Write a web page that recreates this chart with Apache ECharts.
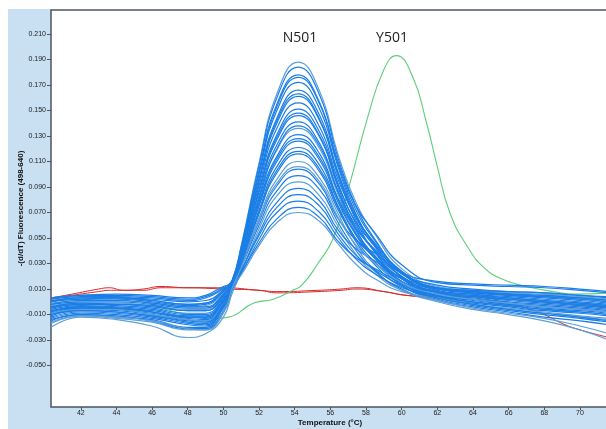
<!DOCTYPE html>
<html>
<head>
<meta charset="utf-8">
<script src="https://cdn.jsdelivr.net/npm/echarts@6.0.0/dist/echarts.min.js"></script>
<style>
html, body { margin: 0; padding: 0; background: #fff; }
#main { width: 606px; height: 429px; }
</style>
</head>
<body>
<div id="main"></div>
<script>
// melt curves
var n501Temps = [40.33, 42, 44, 46, 48, 49, 50, 50.5, 51, 52, 53, 54.2, 55.4, 56.4, 57.4, 58.5, 60, 62, 64, 66, 68, 70, 71.63];

var n501Curves = [
    [-0.003,-0.001,-0.001,-0.003,-0.006,-0.006,0.005, 0.017,0.044,0.109,0.163,0.188,0.165,0.117,0.079,0.053,0.026, 0.012,0.009,0.007,0.006,0.004,0.002],
    [0.000,0.002,0.002,0.000,-0.003,-0.002,0.008, 0.017,0.043,0.107,0.160,0.184,0.162,0.114,0.076,0.049,0.023, 0.009,0.006,0.004,0.002,0.000,-0.002],
    [-0.009,-0.005,-0.006,-0.009,-0.013,-0.014,-0.001, 0.015,0.041,0.103,0.155,0.178,0.156,0.111,0.076,0.054,0.029, 0.015,0.013,0.012,0.011,0.009,0.007],
    [-0.006,-0.003,-0.004,-0.006,-0.010,-0.010,0.002, 0.015,0.040,0.100,0.150,0.172,0.151,0.107,0.070,0.044,0.019, 0.006,0.003,0.000,-0.002,-0.004,-0.006],
    [0.003,0.005,0.005,0.004,0.002,0.004,0.011, 0.017,0.040,0.097,0.144,0.166,0.146,0.103,0.069,0.045,0.022, 0.010,0.007,0.005,0.003,0.001,-0.001],
    [-0.012,-0.008,-0.009,-0.012,-0.017,-0.018,-0.004, 0.012,0.037,0.094,0.140,0.161,0.142,0.100,0.065,0.039,0.016, 0.004,0.000,-0.003,-0.006,-0.008,-0.010],
    [-0.004,-0.002,-0.002,-0.004,-0.007,-0.007,0.004, 0.016,0.038,0.091,0.136,0.156,0.137,0.097,0.067,0.046,0.024, 0.011,0.009,0.008,0.007,0.005,0.004],
    [-0.010,-0.006,-0.007,-0.010,-0.014,-0.015,-0.002, 0.014,0.036,0.088,0.131,0.151,0.133,0.094,0.062,0.039,0.018, 0.005,0.002,-0.001,-0.003,-0.005,-0.007],
    [0.001,0.003,0.003,0.001,-0.002,-0.001,0.009, 0.016,0.036,0.086,0.127,0.146,0.129,0.091,0.058,0.034,0.013, 0.002,-0.003,-0.007,-0.010,-0.013,-0.016],
    [-0.007,-0.004,-0.005,-0.007,-0.011,-0.011,0.001, 0.014,0.034,0.083,0.123,0.141,0.124,0.088,0.060,0.040,0.020, 0.008,0.005,0.003,0.001,-0.001,-0.003],
    [-0.017,-0.011,-0.013,-0.016,-0.022,-0.022,-0.009, 0.010,0.032,0.080,0.119,0.136,0.120,0.085,0.055,0.034,0.015, 0.003,-0.002,-0.005,-0.008,-0.011,-0.013],
    [-0.011,-0.007,-0.008,-0.011,-0.016,-0.017,-0.003, 0.012,0.031,0.078,0.114,0.131,0.116,0.082,0.058,0.041,0.022, 0.013,0.010,0.008,0.007,0.005,0.003],
    [0.002,0.004,0.004,0.003,0.001,0.003,0.010, 0.015,0.033,0.075,0.110,0.126,0.111,0.079,0.053,0.034,0.016, 0.007,0.004,0.001,-0.001,-0.003,-0.005],
    [-0.002,0.000,0.000,-0.002,-0.005,-0.005,0.006, 0.015,0.032,0.072,0.106,0.121,0.107,0.076,0.050,0.031,0.014, 0.003,-0.001,-0.004,-0.007,-0.009,-0.011],
    [-0.014,-0.010,-0.012,-0.014,-0.020,-0.020,-0.007, 0.011,0.029,0.069,0.101,0.116,0.102,0.073,0.050,0.035,0.018, 0.010,0.007,0.005,0.004,0.002,0.000],
    [-0.001,0.001,0.001,-0.001,-0.004,-0.003,0.007, 0.015,0.030,0.066,0.096,0.110,0.097,0.070,0.044,0.025,0.009, 0.000,-0.006,-0.010,-0.015,-0.022,-0.030],
    [-0.008,-0.004,-0.005,-0.008,-0.012,-0.013,0.000, 0.013,0.028,0.063,0.091,0.104,0.092,0.066,0.049,0.038,0.023, 0.016,0.014,0.013,0.012,0.010,0.008],
    [-0.005,-0.002,-0.003,-0.005,-0.009,-0.009,0.003, 0.013,0.027,0.060,0.087,0.099,0.088,0.063,0.041,0.024,0.010, 0.001,-0.004,-0.008,-0.012,-0.015,-0.018],
    [-0.020,-0.012,-0.014,-0.019,-0.028,-0.025,-0.012, 0.007,0.023,0.057,0.083,0.094,0.083,0.060,0.038,0.022,0.009, 0.001,-0.005,-0.009,-0.013,-0.019,-0.025],
    [-0.013,-0.009,-0.010,-0.013,-0.018,-0.019,-0.005, 0.010,0.024,0.054,0.078,0.089,0.079,0.057,0.042,0.032,0.019, 0.011,0.008,0.006,0.005,0.003,0.001],
    [-0.004,-0.001,-0.002,-0.003,-0.007,-0.007,0.005, 0.014,0.025,0.052,0.074,0.084,0.075,0.054,0.037,0.025,0.013, 0.005,0.002,-0.002,-0.004,-0.006,-0.008],
    [-0.015,-0.010,-0.011,-0.015,-0.021,-0.021,-0.008, 0.010,0.022,0.049,0.070,0.079,0.070,0.051,0.034,0.022,0.011, 0.004,0.000,-0.003,-0.006,-0.008,-0.010],
    [0.003,0.005,0.006,0.005,0.003,0.005,0.012, 0.014,0.023,0.046,0.065,0.074,0.066,0.048,0.035,0.026,0.015, 0.008,0.006,0.003,0.001,-0.001,-0.003],
    [-0.009,-0.006,-0.006,-0.010,-0.014,-0.015,-0.001, 0.012,0.021,0.044,0.062,0.070,0.063,0.046,0.030,0.018,0.008, 0.003,-0.002,-0.006,-0.009,-0.012,-0.014],
    [0.001,0.002,0.003,0.001,-0.002,-0.001,0.008, 0.017,0.042,0.102,0.153,0.176,0.155,0.109,0.073,0.048,0.024, 0.010,0.008,0.006,0.004,0.002,0.000],
    [-0.008,-0.004,-0.005,-0.008,-0.012,-0.012,0.001, 0.015,0.038,0.095,0.142,0.163,0.143,0.102,0.067,0.043,0.020, 0.007,0.004,0.002,0.000,-0.002,-0.004],
    [-0.002,0.001,0.001,-0.001,-0.004,-0.004,0.006, 0.016,0.037,0.087,0.129,0.148,0.130,0.093,0.063,0.044,0.023, 0.011,0.008,0.006,0.005,0.003,0.001],
    [-0.010,-0.007,-0.008,-0.011,-0.015,-0.016,-0.002, 0.012,0.033,0.081,0.120,0.138,0.122,0.087,0.057,0.036,0.016, 0.005,0.001,-0.002,-0.005,-0.007,-0.009],
    [0.000,0.003,0.003,0.002,0.000,0.001,0.009, 0.016,0.033,0.076,0.112,0.128,0.113,0.081,0.054,0.036,0.018, 0.008,0.005,0.002,0.000,-0.002,-0.004],
    [-0.007,-0.005,-0.005,-0.008,-0.012,-0.012,0.000, 0.013,0.030,0.070,0.103,0.118,0.104,0.075,0.048,0.029,0.012, 0.003,-0.002,-0.006,-0.009,-0.012,-0.015],
    [-0.016,-0.011,-0.012,-0.015,-0.021,-0.022,-0.008, 0.011,0.027,0.064,0.093,0.106,0.094,0.067,0.045,0.030,0.015, 0.006,0.002,-0.001,-0.004,-0.006,-0.008]
];

var y501Temps = [40.33, 42, 43.5, 45.3, 46.8, 48.3, 49.5, 50.3, 51.7, 52.8, 53.9, 54.4, 55.3, 56.2, 57.1, 58.1, 59.0, 59.7, 60.6, 61.4, 62.0, 62.7, 63.7, 64.6, 65.6, 66.7, 68.5, 69.8, 71.63];
var y501Values = [-0.005, 0.001, 0.004, 0.001, -0.006, -0.011, -0.013, -0.012, -0.001, 0.002, 0.009, 0.013, 0.030, 0.051, 0.093, 0.145, 0.182, 0.193, 0.177, 0.140, 0.106, 0.070, 0.043, 0.027, 0.018, 0.013, 0.008, 0.006, 0.007];

var ntcTemps = [40.33, 41.5, 43.0, 43.6, 44.4, 45.5, 46.5, 48, 50, 52, 53, 55.3, 56.6, 57.5, 59, 60.3, 62, 64, 66, 67, 68, 69, 70, 71.63];
var ntcA = [0.003, 0.006, 0.010, 0.011, 0.009, 0.010, 0.012, 0.011, 0.011, 0.009, 0.008, 0.009, 0.010, 0.011, 0.008, 0.005, 0.004, 0.004, 0.002, 0.001, 0.000, -0.001, -0.003, -0.004];
var ntcB = [0.002, 0.005, 0.008, 0.009, 0.009, 0.009, 0.011, 0.011, 0.010, 0.009, 0.007, 0.008, 0.009, 0.010, 0.008, 0.005, 0.003, 0.002, -0.001, -0.005, -0.010, -0.017, -0.022, -0.028];

var xTicks = [42, 44, 46, 48, 50, 52, 54, 56, 58, 60, 62, 64, 66, 68, 70];
var yTicks = [-0.05, -0.03, -0.01, 0.01, 0.03, 0.05, 0.07, 0.09, 0.11, 0.13, 0.15, 0.17, 0.19, 0.21];

function pairs(xs, ys) {
    var out = [];
    for (var i = 0; i < xs.length; i++) {
        out.push([xs[i], ys[i]]);
    }
    return out;
}

var lightOnes = [0, 10, 15, 18, 23, 30]; // paler outer curves

var series = [];
series.push({ type: 'line', data: pairs(ntcTemps, ntcA), smooth: true, showSymbol: false, lineStyle: { color: '#d42a2c', width: 1 } });
series.push({ type: 'line', data: pairs(ntcTemps, ntcB), smooth: true, showSymbol: false, lineStyle: { color: '#d42a2c', width: 1 } });
series.push({ type: 'line', data: pairs(y501Temps, y501Values), smooth: true, showSymbol: false, lineStyle: { color: '#5ccf7e', width: 1.1 } });
for (var k = 0; k < n501Curves.length; k++) {
    series.push({
        type: 'line',
        data: pairs(n501Temps, n501Curves[k]),
        smooth: true,
        showSymbol: false,
        lineStyle: { color: lightOnes.indexOf(k) >= 0 ? '#5c9fd9' : '#1b7ee6', width: 1.2 }
    });
}

var myChart = echarts.init(document.getElementById('main'));
var option = {
    animation: false,
    backgroundColor: '#fff',
    grid: {
        left: 51, top: 10, right: -3, bottom: 22,
        outerBoundsMode: 'none',
        show: true,
        backgroundColor: '#fff',
        borderColor: '#4c5561',
        borderWidth: 1.5
    },
    xAxis: {
        type: 'value',
        min: 40.33,
        max: 71.63,
        name: 'Temperature (°C)',
        nameLocation: 'middle',
        nameGap: 12,
        nameMoveOverlap: false,
        nameTextStyle: { fontFamily: 'Liberation Sans', fontSize: 8, fontWeight: 'bold', color: '#111' },
        axisLine: { show: false, onZero: false },
        axisTick: { show: true, length: 3, customValues: xTicks, lineStyle: { color: '#555' } },
        axisLabel: { customValues: xTicks, margin: 3, fontFamily: 'Liberation Sans', fontSize: 7, color: '#222' },
        splitLine: { show: false }
    },
    yAxis: {
        type: 'value',
        min: -0.0825,
        max: 0.2288,
        name: '-(d/dT) Fluorescence (498-640)',
        nameLocation: 'middle',
        nameGap: 26,
        nameMoveOverlap: false,
        nameTextStyle: { fontFamily: 'Liberation Sans', fontSize: 8, fontWeight: 'bold', color: '#111' },
        axisLine: { show: false, onZero: false },
        axisTick: { show: true, length: 4, customValues: yTicks, lineStyle: { color: '#555' } },
        axisLabel: {
            customValues: yTicks,
            margin: 5,
            fontFamily: 'Liberation Sans',
            fontSize: 7,
            color: '#222',
            formatter: function (v) { return v.toFixed(3); }
        },
        splitLine: { show: false }
    },
    graphic: [
        { type: 'rect', z: -10, shape: { x: 8, y: 9, width: 43, height: 420 }, style: { fill: '#c9dff2' } },
        { type: 'rect', z: -10, shape: { x: 51, y: 407, width: 555, height: 22 }, style: { fill: '#c9dff2' } },
        { type: 'text', z: 100, x: 300, y: 38, style: { text: 'N501', fontFamily: 'Open Sans', fontSize: 14, fill: '#222', align: 'center', verticalAlign: 'middle' } },
        { type: 'text', z: 100, x: 392, y: 38, style: { text: 'Y501', fontFamily: 'Open Sans', fontSize: 14, fill: '#222', align: 'center', verticalAlign: 'middle' } }
    ],
    series: series
};
myChart.setOption(option);
</script>
</body>
</html>
